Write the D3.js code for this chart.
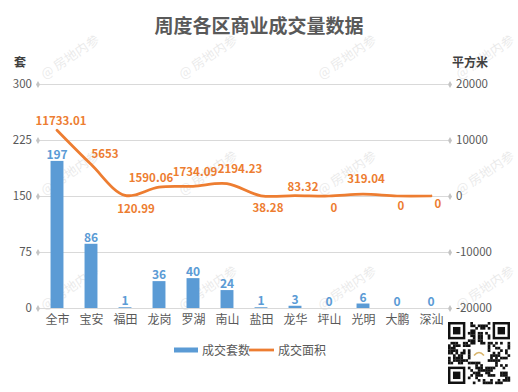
<!DOCTYPE html>
<html>
<head>
<meta charset="utf-8">
<script src="https://cdn.jsdelivr.net/npm/d3@7"></script>
<style>
  body { margin: 0; background: #fff; }
  text { font-family: "Noto Sans CJK SC", "Noto Sans", sans-serif; }
</style>
</head>
<body>
<div id="chart"></div>
<script>
const districts = ['全市', '宝安', '福田', '龙岗', '罗湖', '南山', '盐田', '龙华', '坪山', '光明', '大鹏', '深汕'];
const units = [197, 86, 1, 36, 40, 24, 1, 3, 0, 6, 0, 0];
const area = [11733.01, 5653, 120.99, 1590.06, 1734.09, 2194.23, 38.28, 83.32, 0, 319.04, 0, 0];
const leftTicks = [0, 75, 150, 225, 300];
const rightTicks = [-20000, -10000, 0, 10000, 20000];
const seriesNames = ['成交套数', '成交面积'];

// where each area label sits relative to its point (dx, dy of baseline)
const areaLabelShift = [[4, -5], [14, -6], [11, 18], [-8, -5], [2, -10], [13, -11],
                        [7, 16], [8, -5], [5, 16], [3, -11], [4, 14], [7, 12]];

const width = 518;
const height = 392;
const margin = {top: 84, bottom: 84, left: 40, right: 70};
const blue = '#5B9BD5';
const orange = '#ED7D31';
const grey = '#595959';

const svg = d3.select('#chart')
    .append('svg')
    .attr('width', width)
    .attr('height', height);

// watermarks
const wmX = [70, 208, 347, 485];
const wmY = [57, 173, 288];
wmY.forEach(y => wmX.forEach(x => {
    svg.append('text')
        .attr('transform', `translate(${x},${y}) rotate(-34)`)
        .attr('text-anchor', 'middle')
        .attr('dy', '0.35em')
        .attr('font-size', '13px')
        .attr('fill', '#000')
        .attr('opacity', 0.08)
        .text('@ 房地内参');
}));

const x = d3.scaleBand()
    .domain(districts)
    .range([margin.left, width - margin.right])
    .paddingInner(0.62)
    .paddingOuter(0.31);

const xc = d3.scalePoint()
    .domain(districts)
    .range([margin.left, width - margin.right])
    .padding(0.5);

const yL = d3.scaleLinear()
    .domain([0, 300])
    .range([height - margin.bottom, margin.top]);

const yR = d3.scaleLinear()
    .domain([-20000, 20000])
    .range([height - margin.bottom, margin.top]);

// gridlines
svg.append('g')
    .selectAll('line')
    .data(leftTicks)
    .join('line')
        .attr('x1', margin.left)
        .attr('x2', width - margin.right)
        .attr('y1', d => yL(d) + 0.5)
        .attr('y2', d => yL(d) + 0.5)
        .attr('stroke', '#d9d9d9')
        .attr('stroke-width', 1);

function diamonds(g, cx, scale, ticks) {
    g.selectAll('path')
        .data(ticks)
        .join('path')
            .attr('d', d3.symbol(d3.symbolDiamond, 14))
            .attr('transform', d => `translate(${cx},${scale(d) + 0.5})`)
            .attr('fill', '#c4c4c4');
}

function yAxisLeft(g) {
    g.attr('transform', `translate(${margin.left - 8}, 0)`)
        .call(d3.axisLeft(yL).tickValues(leftTicks).tickSize(0).tickPadding(0))
        .call(g => g.select('.domain').remove())
        .attr('font-size', '11.5px')
        .attr('font-family', '"Noto Sans", sans-serif')
        .selectAll('text').attr('fill', grey);
}

function yAxisRight(g) {
    g.attr('transform', `translate(${width - margin.right + 8}, 0)`)
        .call(d3.axisRight(yR).tickValues(rightTicks).tickSize(0).tickPadding(0)
            .tickFormat(d => String(d)))
        .call(g => g.select('.domain').remove())
        .attr('font-size', '11.5px')
        .attr('font-family', '"Noto Sans", sans-serif')
        .selectAll('text').attr('fill', grey);
}

function xAxis(g) {
    g.attr('transform', `translate(0, ${height - margin.bottom + 5})`)
        .call(d3.axisBottom(xc).tickSize(0).tickPadding(0))
        .call(g => g.select('.domain').remove())
        .attr('font-size', '12px')
        .attr('font-family', '"Noto Sans CJK SC", sans-serif')
        .selectAll('text').attr('fill', grey).attr('dy', '0.9em');
}

svg.append('g').call(yAxisLeft);
svg.append('g').call(yAxisRight);
svg.append('g').call(xAxis);
svg.append('g').call(diamonds, margin.left - 2, yL, leftTicks);
svg.append('g').call(diamonds, width - margin.right + 2, yR, rightTicks);

// bars
svg.append('g')
    .attr('fill', blue)
    .selectAll('rect')
    .data(units)
    .join('rect')
        .attr('x', (d, i) => x(districts[i]))
        .attr('y', d => yL(d))
        .attr('width', x.bandwidth())
        .attr('height', d => yL(0) - yL(d));

svg.append('g')
    .selectAll('text')
    .data(units)
    .join('text')
        .attr('x', (d, i) => xc(districts[i]))
        .attr('y', d => yL(d) - 2)
        .attr('text-anchor', 'middle')
        .attr('font-size', '12px')
        .attr('font-weight', 'bold')
        .attr('font-family', '"Noto Sans", sans-serif')
        .attr('fill', blue)
        .text(d => d);

// area line
const line = d3.line()
    .x((d, i) => xc(districts[i]))
    .y(d => yR(d))
    .curve(d3.curveCatmullRom.alpha(0.5));

svg.append('path')
    .datum(area)
    .attr('d', line)
    .attr('fill', 'none')
    .attr('stroke', orange)
    .attr('stroke-width', 2.75)
    .attr('stroke-linecap', 'round');

svg.append('g')
    .selectAll('text')
    .data(area)
    .join('text')
        .attr('x', (d, i) => xc(districts[i]) + areaLabelShift[i][0])
        .attr('y', (d, i) => yR(d) + areaLabelShift[i][1])
        .attr('text-anchor', 'middle')
        .attr('font-size', '11.5px')
        .attr('font-weight', 'bold')
        .attr('font-family', '"Noto Sans", sans-serif')
        .attr('fill', orange)
        .text(d => d);

// title and unit labels
svg.append('text')
    .attr('x', 259)
    .attr('y', 33)
    .attr('text-anchor', 'middle')
    .attr('font-size', '19px')
    .attr('font-weight', 'bold')
    .attr('fill', grey)
    .text('周度各区商业成交量数据');

svg.append('text')
    .attr('x', 14)
    .attr('y', 67)
    .attr('font-size', '12px')
    .attr('font-weight', 'bold')
    .attr('fill', '#404040')
    .text('套');

svg.append('text')
    .attr('x', 452)
    .attr('y', 67)
    .attr('font-size', '12px')
    .attr('font-weight', 'bold')
    .attr('fill', '#404040')
    .text('平方米');

// legend
const legend = svg.append('g').attr('font-size', '12px').attr('fill', grey);
legend.append('rect')
    .attr('x', 174).attr('y', 347.5).attr('width', 24).attr('height', 5)
    .attr('fill', blue);
legend.append('text').attr('x', 202).attr('y', 355).text(seriesNames[0]);
legend.append('line')
    .attr('x1', 249).attr('x2', 274).attr('y1', 350).attr('y2', 350)
    .attr('stroke', orange).attr('stroke-width', 2.75);
legend.append('text').attr('x', 278).attr('y', 355).text(seriesNames[1]);

// QR code decoration
const qr = svg.append('g').attr('transform', 'translate(448, 322)');
const n = 25;
const cell = 62 / n;
let seed = 7;
function next() { seed = (seed * 1103515245 + 12345) % 2147483648; return seed / 2147483648; }
const inFinder = (r, c) => (r < 8 && c < 8) || (r < 8 && c >= n - 8) || (r >= n - 8 && c < 8);
for (let r = 0; r < n; r++) {
    for (let c = 0; c < n; c++) {
        if (inFinder(r, c)) continue;
        if (r >= 9 && r <= 15 && c >= 9 && c <= 15) continue;
        if (next() < 0.5) {
            qr.append('rect').attr('x', c * cell).attr('y', r * cell)
                .attr('width', cell + 0.2).attr('height', cell + 0.2).attr('fill', '#111');
        }
    }
}
[[0, 0], [0, n - 7], [n - 7, 0]].forEach(([r, c]) => {
    qr.append('rect').attr('x', c * cell + cell / 2).attr('y', r * cell + cell / 2)
        .attr('width', cell * 6).attr('height', cell * 6)
        .attr('fill', 'none').attr('stroke', '#111').attr('stroke-width', cell);
    qr.append('rect').attr('x', (c + 2) * cell).attr('y', (r + 2) * cell)
        .attr('width', cell * 3).attr('height', cell * 3).attr('fill', '#111');
});
qr.append('rect').attr('x', 10 * cell).attr('y', 10 * cell)
    .attr('width', cell * 5).attr('height', cell * 5).attr('fill', '#fff');
qr.append('path')
    .attr('d', `M${10.5 * cell},${13.5 * cell} Q${12.5 * cell},${11 * cell} ${14.5 * cell},${13.5 * cell}`)
    .attr('fill', 'none').attr('stroke', '#d9b56b').attr('stroke-width', 1.5);
</script>
</body>
</html>
